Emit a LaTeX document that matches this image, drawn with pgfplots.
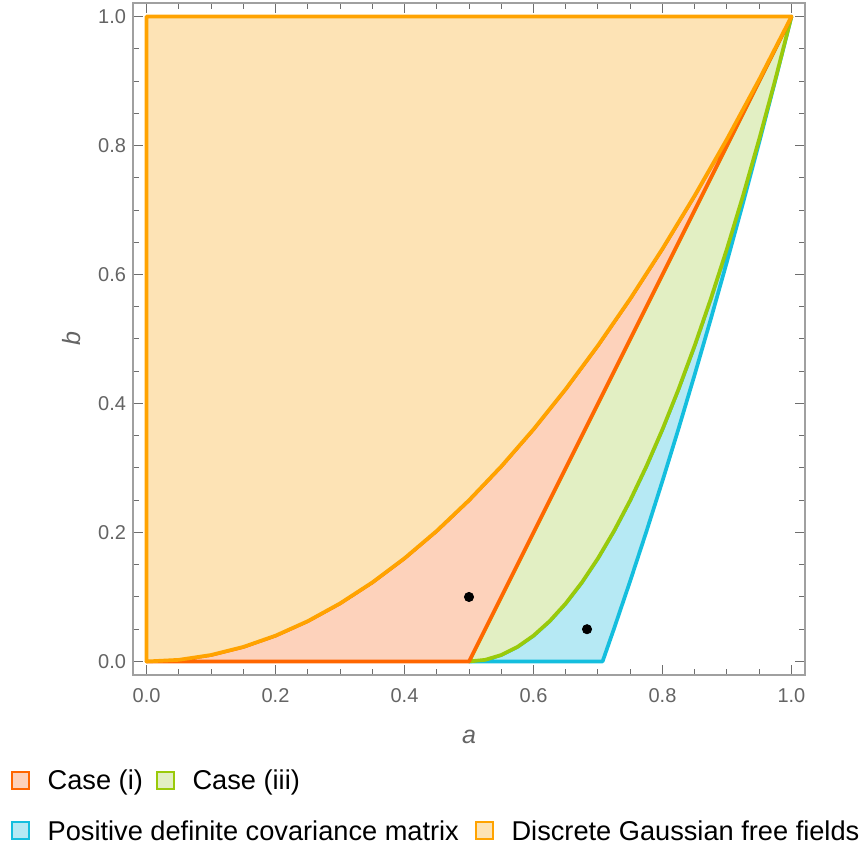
\documentclass[border=0pt]{standalone}
\usepackage{pgfplots}
\pgfplotsset{compat=1.18}
\usepackage{fontspec}
\setmainfont{Liberation Sans}

\definecolor{dgffedge}{RGB}{255,163,0}
\definecolor{dgfffill}{RGB}{253,227,181}
\definecolor{caseiedge}{RGB}{255,102,0}
\definecolor{caseifill}{RGB}{253,210,187}
\definecolor{caseiiiedge}{RGB}{154,202,10}
\definecolor{caseiiifill}{RGB}{226,239,195}
\definecolor{pdedge}{RGB}{20,190,222}
\definecolor{pdfill}{RGB}{182,233,244}
\definecolor{framegray}{RGB}{160,160,160}
\definecolor{tickgray}{RGB}{110,110,110}
\definecolor{labelgray}{RGB}{100,100,100}

\pgfplotsset{
  region/.style={forget plot, line width=1.85pt, line join=round},
  square legend/.style={
    legend image code/.code={\draw[##1, line width=1pt] (0pt,-4.25pt) rectangle (8.5pt,4.25pt);}},
  key row/.style={
    legend columns=-1,
    legend cell align=left,
    square legend,
    legend style={anchor=west, draw=none, fill=none, inner sep=0pt, outer sep=0pt,
      font=\fontsize{13.6}{16}\selectfont,
      nodes={inner sep=0pt, text height=9.7pt, text depth=0pt},
      /tikz/every odd column/.append style={column sep=8.85pt},
      /tikz/every even column/.append style={column sep=#1}}},
}

\begin{document}
\begin{tikzpicture}
\useasboundingbox (-66.5pt,-91pt) rectangle (367pt,337.5pt);

\begin{axis}[
  scale only axis, width=336pt, height=336pt,
  xmin=-0.021, xmax=1.021, ymin=-0.021, ymax=1.021,
  xtick={0,0.2,0.4,0.6,0.8,1}, ytick={0,0.2,0.4,0.6,0.8,1},
  minor tick num=3,
  tick align=inside,
  major tick length=5pt, minor tick length=3pt,
  axis line style={framegray, line width=0.6pt},
  every tick/.style={tickgray, line width=0.5pt},
  xticklabel={\pgfmathprintnumber[fixed,fixed zerofill,precision=1,assume math mode=true]{\tick}},
  yticklabel={\pgfmathprintnumber[fixed,fixed zerofill,precision=1,assume math mode=true]{\tick}},
  tick label style={font=\fontsize{10}{12}\selectfont, text=labelgray},
  xticklabel style={yshift=-3.2pt},
  xlabel={\textit{a}}, ylabel={\textit{b}},
  every axis x label/.style={at={(axis description cs:0.5,-0.0923)}, anchor=center,
    font=\fontsize{12.5}{14}\selectfont, text=labelgray},
  every axis y label/.style={at={(axis description cs:-0.0908,0.5)}, anchor=center, rotate=90,
    font=\fontsize{12.5}{14}\selectfont, text=labelgray},
  key row=6.5pt,
  legend style={at={(-0.18155,-0.15625)}},
]

% positive definite covariance: between b=(2a-1)^2 and b=2a^2-1
\addplot[region, draw=pdedge, fill=pdfill] coordinates {
  (0.5,0) (0.70711,0) (0.725,0.05125) (0.75,0.125) (0.775,0.20125) (0.8,0.28)
  (0.825,0.36125) (0.85,0.445) (0.875,0.53125) (0.9,0.62) (0.925,0.71125)
  (0.95,0.805) (0.975,0.90125) (1,1)
  (0.975,0.9025) (0.95,0.81) (0.925,0.7225) (0.9,0.64) (0.875,0.5625) (0.85,0.49)
  (0.825,0.4225) (0.8,0.36) (0.775,0.3025) (0.75,0.25) (0.725,0.2025) (0.7,0.16)
  (0.675,0.1225) (0.65,0.09) (0.625,0.0625) (0.6,0.04) (0.575,0.0225) (0.55,0.01)
  (0.525,0.0025)
} -- cycle;

% case (iii): between b=(2a-1)^2 and b=2a-1
\addplot[region, draw=caseiiiedge, fill=caseiiifill] coordinates {
  (0.5,0) (0.525,0.0025) (0.55,0.01) (0.575,0.0225) (0.6,0.04) (0.625,0.0625)
  (0.65,0.09) (0.675,0.1225) (0.7,0.16) (0.725,0.2025) (0.75,0.25) (0.775,0.3025)
  (0.8,0.36) (0.825,0.4225) (0.85,0.49) (0.875,0.5625) (0.9,0.64) (0.925,0.7225)
  (0.95,0.81) (0.975,0.9025) (1,1)
} -- cycle;

% case (i): between b=2a-1 (or b=0) and b=a^2
\addplot[region, draw=caseiedge, fill=caseifill] coordinates {
  (0,0) (0.5,0) (1,1)
  (0.95,0.9025) (0.9,0.81) (0.85,0.7225) (0.8,0.64) (0.75,0.5625) (0.7,0.49)
  (0.65,0.4225) (0.6,0.36) (0.55,0.3025) (0.5,0.25) (0.45,0.2025) (0.4,0.16)
  (0.35,0.1225) (0.3,0.09) (0.25,0.0625) (0.2,0.04) (0.15,0.0225) (0.1,0.01)
  (0.05,0.0025)
} -- cycle;

% discrete Gaussian free fields: b >= a^2
\addplot[region, draw=dgffedge, fill=dgfffill] coordinates {
  (0,0) (0,1) (1,1)
  (0.95,0.9025) (0.9,0.81) (0.85,0.7225) (0.8,0.64) (0.75,0.5625) (0.7,0.49)
  (0.65,0.4225) (0.6,0.36) (0.55,0.3025) (0.5,0.25) (0.45,0.2025) (0.4,0.16)
  (0.35,0.1225) (0.3,0.09) (0.25,0.0625) (0.2,0.04) (0.15,0.0225) (0.1,0.01)
  (0.05,0.0025)
} -- cycle;

% sample parameter points
\addplot[forget plot, only marks, mark=*, mark size=2.3pt, black]
  coordinates {(0.5,0.1) (0.683,0.05)};

\addlegendimage{draw=caseiedge, fill=caseifill}
\addlegendentry{Case (i)}
\addlegendimage{draw=caseiiiedge, fill=caseiiifill}
\addlegendentry{Case (iii)}
\end{axis}

% second legend row
\begin{axis}[
  hide axis, scale only axis, width=336pt, height=336pt,
  xmin=0, xmax=1, ymin=0, ymax=1,
  key row=8pt,
  legend style={at={(-0.18155,-0.2314)}},
]
\addlegendimage{draw=pdedge, fill=pdfill}
\addlegendentry{Positive definite covariance matrix}
\addlegendimage{draw=dgffedge, fill=dgfffill}
\addlegendentry{Discrete Gaussian free fields}
\end{axis}
\end{tikzpicture}
\end{document}
